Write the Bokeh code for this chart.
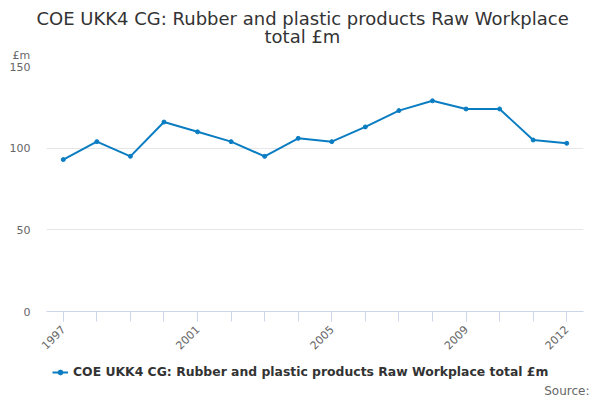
import math

from bokeh.embed import file_html
from bokeh.layouts import column
from bokeh.models import (ColumnDataSource, FixedTicker, Legend, LegendItem,
                          Range1d, Title)
from bokeh.plotting import figure
from bokeh.resources import INLINE

# data
years = [1997, 1998, 1999, 2000, 2001, 2002, 2003, 2004,
         2005, 2006, 2007, 2008, 2009, 2010, 2011, 2012]
values = [93, 104, 95, 116, 110, 104, 95, 106,
          104, 113, 123, 129, 124, 124, 105, 103]
year_labels = [1997, 2001, 2005, 2009, 2012]
y_ticks = [0, 50, 100, 150]

title_1 = "COE UKK4 CG: Rubber and plastic products Raw Workplace"
title_2 = "total £m"
series_name = "COE UKK4 CG: Rubber and plastic products Raw Workplace total £m"

FONT = "DejaVu Sans"
BLUE = "#0a7dc2"
AXIS = "#ccd6eb"

source = ColumnDataSource(data=dict(year=years, value=values))

p = figure(width=600, height=360, output_backend="svg", toolbar_location=None,
           tools="", x_range=Range1d(1996.5, 2012.5), y_range=Range1d(0, 150),
           min_border_left=46, min_border_right=17, min_border_top=66,
           min_border_bottom=49)
p.outline_line_color = None
p.background_fill_color = "white"
p.border_fill_color = "white"

p.line("year", "value", source=source, line_color=BLUE, line_width=2)
p.scatter("year", "value", source=source, size=4, color=BLUE)

# x axis
p.xaxis.ticker = FixedTicker(ticks=year_labels, minor_ticks=years)
p.xaxis.axis_line_color = AXIS
p.xaxis.major_tick_line_color = AXIS
p.xaxis.minor_tick_line_color = AXIS
p.xaxis.major_tick_in = 0
p.xaxis.major_tick_out = 10
p.xaxis.minor_tick_in = 0
p.xaxis.minor_tick_out = 10
p.xaxis.major_label_orientation = math.pi / 4
p.xaxis.major_label_text_font = FONT
p.xaxis.major_label_text_font_size = "11px"
p.xaxis.major_label_text_color = "#666666"
p.xaxis.major_label_standoff = 6
p.xgrid.grid_line_color = None

# y axis
p.yaxis.ticker = FixedTicker(ticks=y_ticks)
p.yaxis.axis_line_color = None
p.yaxis.major_tick_line_color = None
p.yaxis.minor_tick_line_color = None
p.yaxis.major_label_text_font = FONT
p.yaxis.major_label_text_font_size = "11px"
p.yaxis.major_label_text_color = "#666666"
p.yaxis.major_label_standoff = 10
p.ygrid.grid_line_color = "#e6e6e6"

# above: unit label nearest the frame, then the two title lines
p.add_layout(Title(text="£m", align="left", offset=-34, standoff=10,
                   text_font=FONT, text_font_size="11px",
                   text_font_style="normal", text_color="#666666"), "above")
p.add_layout(Title(text=title_2, align="left", offset=218, standoff=-11,
                   text_font=FONT, text_font_size="18px",
                   text_font_style="normal", text_color="#333333"), "above")
p.add_layout(Title(text=title_1, align="left", offset=-10, standoff=2,
                   text_font=FONT, text_font_size="18px",
                   text_font_style="normal", text_color="#333333"), "above")

# strip under the chart for the legend and the source note
# (its frame lines up with the chart frame: x from 46 to 583)
foot = figure(width=600, height=37, output_backend="svg", toolbar_location=None,
              tools="", x_range=Range1d(0, 1), y_range=Range1d(0, 1),
              x_axis_type=None, y_axis_type=None, min_border=0)
foot.outline_line_color = None
foot.xgrid.grid_line_color = None
foot.ygrid.grid_line_color = None
# same series again, lying outside this strip's ranges: only its key is seen
key_line = foot.line("year", "value", source=source, line_color=BLUE,
                     line_width=2)
key_dot = foot.scatter("year", "value", source=source, size=4, color=BLUE)

legend = Legend(items=[LegendItem(label=series_name,
                                  renderers=[key_line, key_dot])],
                location=(6, 2), orientation="horizontal",
                glyph_width=16, glyph_height=12, label_height=12,
                label_standoff=5, padding=0, margin=0, spacing=0,
                label_text_font=FONT, label_text_font_size="12.4px",
                label_text_font_style="bold", label_text_color="#333333",
                border_line_color=None, background_fill_alpha=0)
foot.add_layout(legend)
foot.add_layout(Title(text="Source:", align="right", offset=-6, standoff=0,
                      text_font=FONT, text_font_size="12px",
                      text_font_style="normal", text_color="#666666"), "below")

open("out.html", "w").write(file_html(column(p, foot, spacing=0), INLINE))
